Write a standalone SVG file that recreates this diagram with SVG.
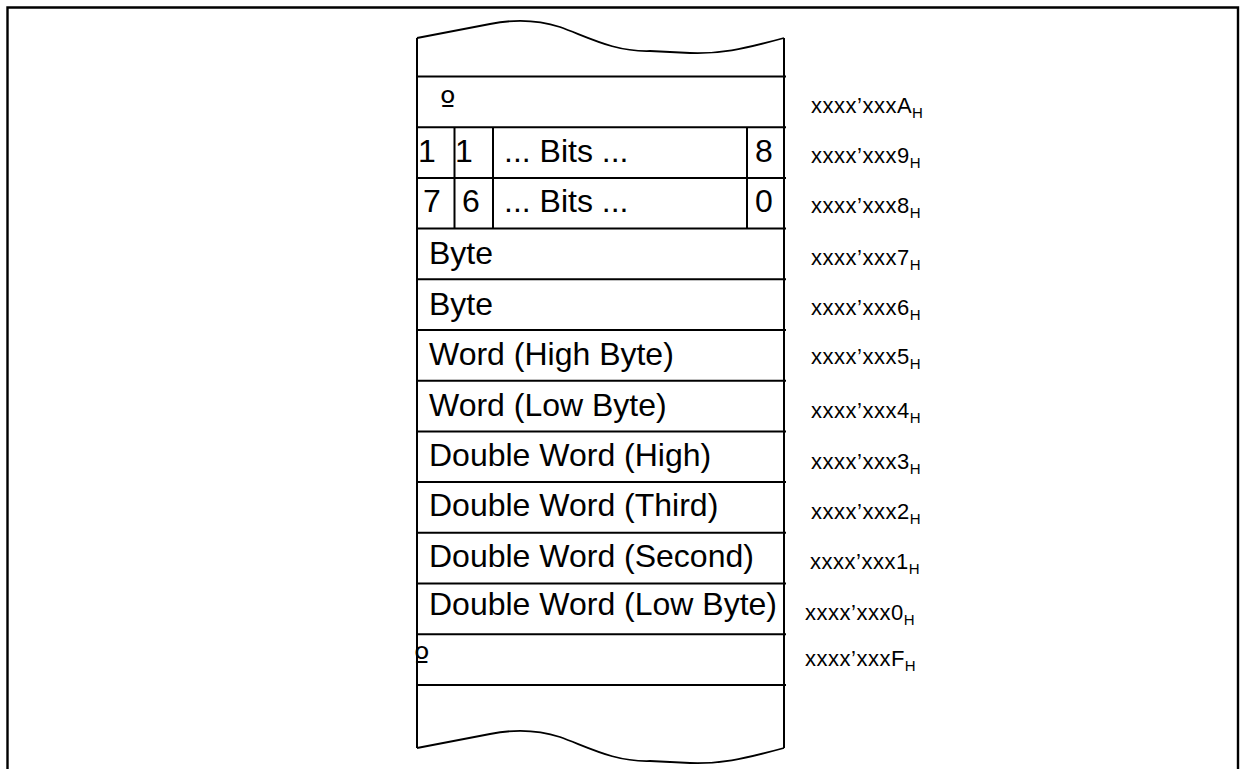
<svg xmlns="http://www.w3.org/2000/svg" width="1240" height="769" viewBox="0 0 1240 769">
<style>
.ln{stroke:#000;stroke-width:2;fill:none}
.fr{stroke:#000;stroke-width:2.4;fill:none}
.wv{stroke:#000;stroke-width:1.8;fill:none}
.t{font-family:"Liberation Sans",Arial,sans-serif;font-size:32px;fill:#000}
.o{font-family:"DejaVu Sans",sans-serif;font-size:33px;fill:#000}
.a{font-family:"Liberation Sans",Arial,sans-serif;font-size:22px;letter-spacing:0.5px;fill:#000}
.s{font-size:15px;letter-spacing:0}
</style>
<rect width="1240" height="769" fill="#fff"/>
<path class="fr" d="M7.5,769 V7.5 H1238 V769"/>
<g id="frame">
<path id="wave-top" class="wv" d="M417,38 L490,24 C510,20 535,19 560,27 C590,38 615,52 650,51 L690,53 C720,54 740,50 784,38"/>
<path id="wave-bottom" class="wv" d="M417,748 L490,734 C510,730 535,729 560,737 C590,748 615,762 650,761 L690,763 C720,764 740,760 784,748"/>
<line class="ln" x1="417" y1="38" x2="417" y2="748"/>
<line class="ln" x1="784" y1="38" x2="784" y2="748"/>
</g>
<g id="rows">
<line class="ln" x1="417" y1="76.5" x2="786" y2="76.5"/>
<line class="ln" x1="417" y1="127.2" x2="786" y2="127.2"/>
<line class="ln" x1="417" y1="177.9" x2="786" y2="177.9"/>
<line class="ln" x1="417" y1="228.6" x2="786" y2="228.6"/>
<line class="ln" x1="417" y1="279.3" x2="786" y2="279.3"/>
<line class="ln" x1="417" y1="330" x2="786" y2="330"/>
<line class="ln" x1="417" y1="380.7" x2="786" y2="380.7"/>
<line class="ln" x1="417" y1="431.4" x2="786" y2="431.4"/>
<line class="ln" x1="417" y1="482.1" x2="786" y2="482.1"/>
<line class="ln" x1="417" y1="532.8" x2="786" y2="532.8"/>
<line class="ln" x1="417" y1="583.5" x2="786" y2="583.5"/>
<line class="ln" x1="417" y1="634.2" x2="786" y2="634.2"/>
<line class="ln" x1="417" y1="684.9" x2="786" y2="684.9"/>
<line class="ln" x1="454.5" y1="127.2" x2="454.5" y2="228.6"/>
<line class="ln" x1="493" y1="127.2" x2="493" y2="228.6"/>
<line class="ln" x1="747" y1="127.2" x2="747" y2="228.6"/>
</g>
<g id="cells">
<text class="o" x="440" y="114">º</text>
<text class="t" x="418" y="162">1</text>
<text class="t" x="455" y="162">1</text>
<text class="t" x="504" y="162">... Bits ...</text>
<text class="t" x="755" y="162">8</text>
<text class="t" x="423" y="212">7</text>
<text class="t" x="462" y="212">6</text>
<text class="t" x="504" y="212">... Bits ...</text>
<text class="t" x="755" y="212">0</text>
<text class="t" x="429" y="264">Byte</text>
<text class="t" x="429" y="315">Byte</text>
<text class="t" x="429" y="365">Word (High Byte)</text>
<text class="t" x="429" y="416">Word (Low Byte)</text>
<text class="t" x="429" y="466">Double Word (High)</text>
<text class="t" x="429" y="516">Double Word (Third)</text>
<text class="t" x="429" y="567">Double Word (Second)</text>
<text class="t" x="429" y="615">Double Word (Low Byte)</text>
<text class="o" x="414" y="670">º</text>
</g>
<g id="addresses">
<text class="a" x="811" y="113">xxxx’xxxA<tspan class="s" dy="5">H</tspan></text>
<text class="a" x="811" y="163">xxxx’xxx9<tspan class="s" dy="5">H</tspan></text>
<text class="a" x="811" y="213">xxxx’xxx8<tspan class="s" dy="5">H</tspan></text>
<text class="a" x="811" y="265">xxxx’xxx7<tspan class="s" dy="5">H</tspan></text>
<text class="a" x="811" y="315">xxxx’xxx6<tspan class="s" dy="5">H</tspan></text>
<text class="a" x="811" y="364">xxxx’xxx5<tspan class="s" dy="5">H</tspan></text>
<text class="a" x="811" y="418">xxxx’xxx4<tspan class="s" dy="5">H</tspan></text>
<text class="a" x="811" y="469">xxxx’xxx3<tspan class="s" dy="5">H</tspan></text>
<text class="a" x="811" y="519">xxxx’xxx2<tspan class="s" dy="5">H</tspan></text>
<text class="a" x="810" y="569">xxxx’xxx1<tspan class="s" dy="5">H</tspan></text>
<text class="a" x="805" y="620">xxxx’xxx0<tspan class="s" dy="5">H</tspan></text>
<text class="a" x="805" y="666">xxxx’xxxF<tspan class="s" dy="5">H</tspan></text>
</g>
</svg>
